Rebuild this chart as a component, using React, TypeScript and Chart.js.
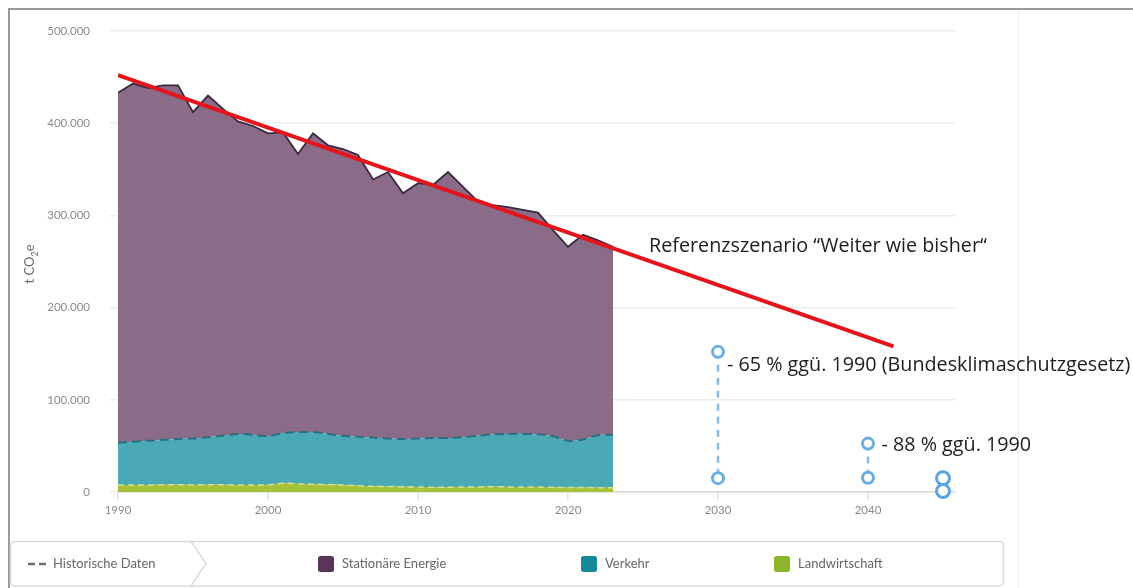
import React, { useEffect, useRef } from "react";
import { Chart, registerables } from "chart.js";

Chart.register(...registerables);

// ---- data (t CO2e) ----
const years = [
  1990, 1991, 1992, 1993, 1994, 1995, 1996, 1997, 1998, 1999,
  2000, 2001, 2002, 2003, 2004, 2005, 2006, 2007, 2008, 2009,
  2010, 2011, 2012, 2013, 2014, 2015, 2016, 2017, 2018, 2019,
  2020, 2021, 2022, 2023,
];
const landwirtschaft = [
  7500, 7500, 7600, 7800, 7800, 7700, 7900, 7800, 7600, 7500,
  7800, 9500, 8800, 8500, 8000, 7500, 6800, 6200, 6000, 5600,
  5400, 5200, 5200, 5400, 5500, 5600, 5500, 5400, 5300, 5200,
  4800, 4800, 4700, 4600,
];
const verkehr = [
  46000, 47000, 47900, 48700, 49700, 50300, 51600, 53200, 55400, 54500,
  52700, 54500, 56200, 56500, 55000, 53500, 53200, 52800, 52000, 51900,
  52600, 53300, 53300, 54100, 55500, 56900, 57500, 57600, 57200, 55300,
  50700, 52200, 56800, 57400,
];
const stationaer = [
  379500, 388500, 382500, 384500, 383500, 354000, 370500, 354500, 339000, 335000,
  328500, 326000, 301600, 324000, 313000, 311000, 305500, 280000, 289000, 266500,
  277000, 274500, 288500, 271500, 254000, 248500, 246000, 243000, 240500, 223500,
  210500, 222000, 211500, 204000,
];
const referenzYears = [1990, 2041.7];
const referenzValues = [452000, 158000];
const ziel2030 = [152000, 15000];
const ziel2040 = [52500, 15500];
const ziel2045 = [15000, 1000];

const xTicks = [1990, 2000, 2010, 2020, 2030, 2040];
const yTicks = [0, 100000, 200000, 300000, 400000, 500000];
const yTickLabels = ["0", "100.000", "200.000", "300.000", "400.000", "500.000"];

const legendLabels = ["Historische Daten", "Stationäre Energie", "Verkehr", "Landwirtschaft"];
const legendColors = ["#6f6f6f", "#5b3459", "#17879a", "#8db42b"];

const referenzLabel = "Referenzszenario \u201CWeiter wie bisher\u201C";
const ziel2030Label = "- 65 % ggü. 1990 (Bundesklimaschutzgesetz)";
const ziel2040Label = "- 88 % ggü. 1990";

const FONT = "Lato, 'Open Sans', sans-serif";
const ANNO_FONT = "'Open Sans', Lato, sans-serif";

const decorPlugin = {
  id: "decor",
  beforeDraw(chart: any) {
    const ctx = chart.ctx;
    ctx.save();
    ctx.fillStyle = "#ffffff";
    ctx.fillRect(0, 0, chart.width, chart.height);
    // outer frame
    ctx.strokeStyle = "#9a9a9a";
    ctx.lineWidth = 2;
    ctx.beginPath();
    ctx.moveTo(9, 588);
    ctx.lineTo(9, 9);
    ctx.lineTo(1133, 9);
    ctx.stroke();
    ctx.strokeStyle = "#f0f0f0";
    ctx.lineWidth = 1;
    ctx.beginPath();
    ctx.moveTo(1018.5, 10);
    ctx.lineTo(1018.5, 588);
    ctx.stroke();

    // y-axis title with subscript
    ctx.translate(30, 264);
    ctx.rotate(-Math.PI / 2);
    ctx.fillStyle = "#6a6a6a";
    ctx.textBaseline = "alphabetic";
    ctx.font = `13px ${FONT}`;
    const p1 = "t CO";
    const w1 = ctx.measureText(p1).width;
    ctx.font = `9px ${FONT}`;
    const w2 = ctx.measureText("2").width;
    ctx.font = `13px ${FONT}`;
    const w3 = ctx.measureText("e").width;
    let x = -(w1 + w2 + w3) / 2;
    ctx.fillText(p1, x, 4);
    x += w1;
    ctx.font = `9px ${FONT}`;
    ctx.fillText("2", x, 8);
    x += w2;
    ctx.font = `13px ${FONT}`;
    ctx.fillText("e", x, 4);
    ctx.restore();

    // legend box
    ctx.save();
    ctx.strokeStyle = "#dcdcdc";
    ctx.lineWidth = 1.5;
    ctx.beginPath();
    (ctx as any).roundRect(10.5, 541.5, 993, 44.5, 4);
    ctx.stroke();
    ctx.beginPath();
    ctx.moveTo(191, 541.5);
    ctx.lineTo(206, 563.5);
    ctx.lineTo(191, 586);
    ctx.stroke();

    const cy = 564;
    ctx.strokeStyle = legendColors[0];
    ctx.lineWidth = 2.5;
    ctx.setLineDash([7, 4]);
    ctx.beginPath();
    ctx.moveTo(28, cy);
    ctx.lineTo(47, cy);
    ctx.stroke();
    ctx.setLineDash([]);
    ctx.font = `13px ${FONT}`;
    ctx.fillStyle = "#666666";
    ctx.textBaseline = "middle";
    ctx.textAlign = "left";
    ctx.fillText(legendLabels[0], 53, cy);

    const items = [
      { sx: 318, tx: 342, i: 1 },
      { sx: 581, tx: 605, i: 2 },
      { sx: 774, tx: 798, i: 3 },
    ];
    for (const it of items) {
      ctx.fillStyle = legendColors[it.i];
      ctx.beginPath();
      (ctx as any).roundRect(it.sx, cy - 8, 16, 16, 2.5);
      ctx.fill();
      ctx.fillStyle = "#666666";
      ctx.fillText(legendLabels[it.i], it.tx, cy);
    }
    ctx.restore();
  },
  afterDatasetsDraw(chart: any) {
    const ctx = chart.ctx;
    const xs = chart.scales.x;
    const ys = chart.scales.y;
    ctx.save();
    ctx.fillStyle = "#1d1d1d";
    ctx.textBaseline = "middle";
    ctx.textAlign = "left";
    // fit annotation font so the reference label spans ~338px, like the original
    ctx.font = `20px ${ANNO_FONT}`;
    const w = ctx.measureText(referenzLabel).width;
    const size = Math.max(14, Math.min(24, (20 * 338) / w));
    ctx.font = `${size.toFixed(2)}px ${ANNO_FONT}`;
    ctx.fillText(referenzLabel, xs.getPixelForValue(2025.4), ys.getPixelForValue(266000));
    ctx.fillText(ziel2030Label, xs.getPixelForValue(2030.6), ys.getPixelForValue(137000));
    ctx.fillText(ziel2040Label, xs.getPixelForValue(2040.9), ys.getPixelForValue(51000));
    ctx.restore();
  },
};

export default function App() {
  const ref = useRef<HTMLCanvasElement>(null);

  useEffect(() => {
    if (!ref.current) return;
    const cumAgri = years.map((yr, i) => ({ x: yr, y: landwirtschaft[i] }));
    const cumVerkehr = years.map((yr, i) => ({ x: yr, y: landwirtschaft[i] + verkehr[i] }));
    const cumTotal = years.map((yr, i) => ({
      x: yr,
      y: landwirtschaft[i] + verkehr[i] + stationaer[i],
    }));
    const target = (yr: number, vals: number[], dashed: boolean, r: number, col: string) => ({
      type: "line",
      data: vals.map((v) => ({ x: yr, y: v })),
      borderColor: "#86bde6",
      borderWidth: dashed ? 2.5 : 0,
      borderDash: [7, 6],
      pointRadius: r,
      pointHoverRadius: r,
      pointBorderWidth: 3,
      pointBorderColor: col,
      pointBackgroundColor: "#ffffff",
      fill: false,
      clip: false,
    });

    const chart = new Chart(ref.current, {
      type: "line",
      data: {
        datasets: [
          {
            label: "Referenz",
            data: referenzYears.map((yr, i) => ({ x: yr, y: referenzValues[i] })),
            borderColor: "#e3141c",
            borderWidth: 4,
            pointRadius: 0,
            fill: false,
          },
          target(2030, ziel2030, true, 5.5, "#6aaee0") as any,
          target(2040, ziel2040, true, 5.5, "#6aaee0") as any,
          target(2045, ziel2045, false, 6.5, "#5aa5dc") as any,
          {
            label: legendLabels[3],
            data: cumAgri,
            borderColor: "#d7df8a",
            borderWidth: 1.5,
            borderDash: [6, 4],
            backgroundColor: "#a6c23a",
            fill: "origin",
            pointRadius: 0,
            tension: 0.3,
          },
          {
            label: legendLabels[2],
            data: cumVerkehr,
            borderColor: "#2a6f82",
            borderWidth: 2,
            borderDash: [9, 5],
            backgroundColor: "#4ba9b6",
            fill: "-1",
            pointRadius: 0,
            tension: 0.3,
          },
          {
            label: legendLabels[1],
            data: cumTotal,
            borderColor: "#3a2840",
            borderWidth: 1.8,
            backgroundColor: "#8a6b88",
            fill: "-1",
            pointRadius: 0,
            tension: 0,
          },
        ],
      },
      options: {
        animation: false,
        responsive: false,
        maintainAspectRatio: false,
        layout: { padding: { left: 0, top: 31, right: 178, bottom: 0 } },
        plugins: {
          legend: { display: false },
          tooltip: { enabled: false },
        },
        scales: {
          x: {
            type: "linear",
            min: 1990,
            max: 2045.8,
            afterFit: (s: any) => {
              s.height = 96;
            },
            afterBuildTicks: (s: any) => {
              s.ticks = xTicks.map((v) => ({ value: v }));
            },
            ticks: {
              color: "#8a8a8a",
              font: { family: FONT, size: 11.5 },
              padding: 3,
              maxRotation: 0,
              callback: (v: any) => String(v),
            },
            grid: {
              drawOnChartArea: false,
              drawTicks: true,
              tickLength: 8,
              color: "#dfe4ea",
              lineWidth: 1.5,
            },
            border: { display: true, color: "#d9d9d9", width: 1.5 },
          },
          y: {
            type: "linear",
            min: 0,
            max: 500000,
            afterFit: (s: any) => {
              s.width = 118;
            },
            afterBuildTicks: (s: any) => {
              s.ticks = yTicks.map((v) => ({ value: v }));
            },
            ticks: {
              color: "#8a8a8a",
              font: { family: FONT, size: 11.5 },
              padding: 20,
              callback: (v: any) => yTickLabels[yTicks.indexOf(Number(v))] ?? "",
            },
            grid: {
              color: "#ececec",
              lineWidth: 1.5,
              tickLength: 8,
            },
            border: { display: false },
          },
        },
      },
      plugins: [decorPlugin],
    } as any);
    return () => chart.destroy();
  }, []);

  return (
    <div style={{ position: "fixed", left: 0, top: 0, width: 1133, height: 588 }}>
      <canvas ref={ref} width={1133} height={588} style={{ display: "block" }} />
    </div>
  );
}
